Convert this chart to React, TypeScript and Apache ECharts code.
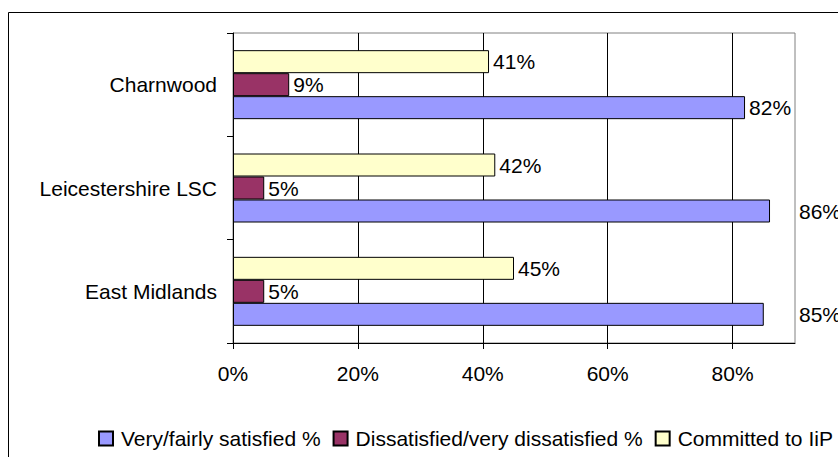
import React, { useEffect, useRef } from "react";
import * as echarts from "echarts";

// Categories, listed bottom to top as the value axis runs upward
const categories = ["East Midlands", "Leicestershire LSC", "Charnwood"];

const seriesNames = [
  "Very/fairly satisfied %",
  "Dissatisfied/very dissatisfied %",
  "Committed to IiP",
];

const satisfied = [85, 86, 82];
const dissatisfied = [5, 5, 9];
const committed = [45, 42, 41];

const xTicks = [0, 20, 40, 60, 80];

const FONT = "'Liberation Sans', Arial, Helvetica, sans-serif";
const FONT_SIZE = 21;

const GRID_LEFT = 233;
const GRID_TOP = 33;
const GRID_WIDTH = 562;
const GRID_HEIGHT = 310;
const AXIS_MAX = 90;
const LABEL_WIDTH = 42;

export default function App() {
  const ref = useRef<HTMLDivElement>(null);

  useEffect(() => {
    if (!ref.current) return;
    const chart = echarts.init(ref.current, null, { renderer: "svg" });

    const labelStyle = {
      show: true,
      position: "right" as const,
      distance: 4,
      color: "#000",
      fontFamily: FONT,
      fontSize: FONT_SIZE,
      formatter: "{c}%",
    };

    // Labels that would run past the plot edge sit just outside it instead
    const withLabels = (values: number[]) =>
      values.map((v) => {
        const px = (v / AXIS_MAX) * GRID_WIDTH;
        if (px + 4 + LABEL_WIDTH > GRID_WIDTH) {
          return {
            value: v,
            label: { position: [GRID_WIDTH + 4, "50%"], verticalAlign: "middle", align: "left" },
          };
        }
        return v;
      });

    const barBase = {
      type: "bar" as const,
      barWidth: 23,
      barGap: "0%",
      label: labelStyle,
      emphasis: { disabled: true },
    };

    chart.setOption({
      animation: false,
      backgroundColor: "#fff",
      graphic: [
        {
          type: "rect",
          shape: { x: 8.5, y: 12.5, width: 1200, height: 800 },
          style: { fill: "none", stroke: "#000", lineWidth: 1 },
          silent: true,
          z: -1,
        },
      ],
      grid: {
        left: GRID_LEFT,
        top: GRID_TOP,
        width: GRID_WIDTH,
        height: GRID_HEIGHT,
        show: true,
        borderColor: "#808080",
        borderWidth: 1,
        backgroundColor: "#fff",
      },
      legend: {
        left: 93,
        top: 423,
        itemWidth: 14,
        itemHeight: 14,
        itemGap: 12,
        icon: "rect",
        textStyle: {
          color: "#000",
          fontFamily: FONT,
          fontSize: FONT_SIZE,
          padding: [0, 0, 0, 3],
        },
        data: seriesNames,
      },
      xAxis: {
        type: "value",
        min: 0,
        max: AXIS_MAX,
        interval: 20,
        axisLine: { show: true, lineStyle: { color: "#000", width: 1 } },
        axisTick: { show: true, length: 6, lineStyle: { color: "#000" }, customValues: xTicks },
        axisLabel: {
          color: "#000",
          fontFamily: FONT,
          fontSize: FONT_SIZE,
          margin: 20,
          customValues: xTicks,
          formatter: "{value}%",
        },
        splitLine: { show: true, lineStyle: { color: "#000", width: 1 } },
      },
      yAxis: {
        type: "category",
        data: categories,
        axisLine: { show: true, lineStyle: { color: "#000", width: 1 } },
        axisTick: { show: true, length: 6, lineStyle: { color: "#000" } },
        axisLabel: {
          color: "#000",
          fontFamily: FONT,
          fontSize: FONT_SIZE,
          margin: 16,
        },
      },
      // Within each band the first series sits on top, so the bars are
      // listed top to bottom: committed, dissatisfied, satisfied
      series: [
        {
          ...barBase,
          name: seriesNames[2],
          data: committed,
          itemStyle: { color: "#FFFFCC", borderColor: "#000", borderWidth: 1 },
        },
        {
          ...barBase,
          name: seriesNames[1],
          data: dissatisfied,
          itemStyle: { color: "#993366", borderColor: "#000", borderWidth: 1 },
        },
        {
          ...barBase,
          name: seriesNames[0],
          data: withLabels(satisfied),
          itemStyle: { color: "#9999FF", borderColor: "#000", borderWidth: 1 },
        },
      ],
    });

    return () => chart.dispose();
  }, []);

  return (
    <div
      style={{
        position: "fixed",
        left: 0,
        top: 0,
        width: 838,
        height: 457,
        overflow: "hidden",
        background: "#fff",
      }}
    >
      <div ref={ref} style={{ width: 1000, height: 480 }} />
    </div>
  );
}
